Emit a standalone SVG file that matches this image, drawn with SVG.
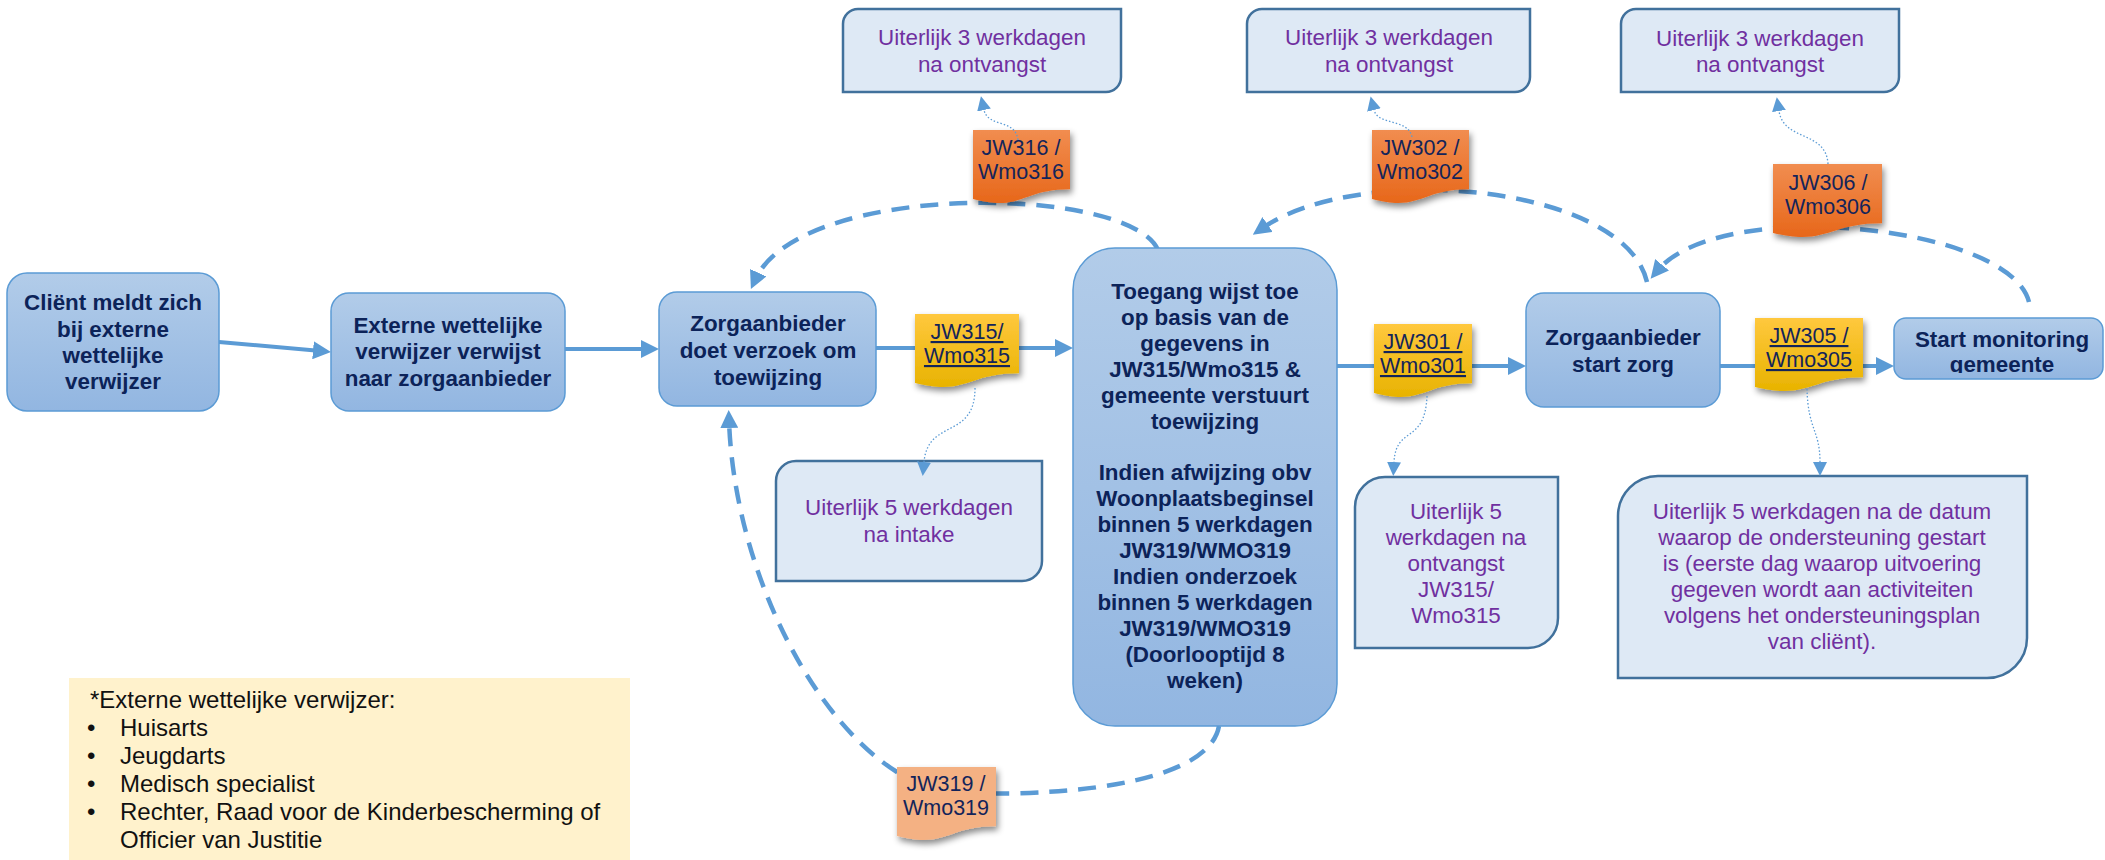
<svg xmlns="http://www.w3.org/2000/svg" width="2105" height="860" viewBox="0 0 2105 860">
<style>
text{font-family:'Liberation Sans',Arial,sans-serif}
.node{fill:url(#gNode);stroke:#5b9bd5;stroke-width:1.5}
.nt{font-size:22.4px;font-weight:bold;fill:#0c2359;text-anchor:middle}
.time{fill:#dee9f5;stroke:#41719c;stroke-width:2.5}
.tt{font-size:22.4px;fill:#7030a0;text-anchor:middle}
.jt{font-size:21.5px;fill:#13245a;text-anchor:middle}
.u{text-decoration:underline}
.solid{fill:none;stroke:#5b9bd5;stroke-width:4;marker-end:url(#ah)}
.dash{fill:none;stroke:#5b9bd5;stroke-width:4.5;stroke-dasharray:18 11;marker-end:url(#ah)}
.dot{fill:none;stroke:#5b9bd5;stroke-width:1.3;stroke-dasharray:1.5 2;marker-end:url(#ahs)}
.lt{font-size:24px;fill:#111}
</style>
<defs>
<linearGradient id="gNode" x1="0" y1="0" x2="0" y2="1"><stop offset="0" stop-color="#b2cce9"/><stop offset="1" stop-color="#92b6e1"/></linearGradient>
<linearGradient id="gYel" x1="0" y1="0" x2="0" y2="1"><stop offset="0" stop-color="#ffc83e"/><stop offset="1" stop-color="#e8b300"/></linearGradient>
<linearGradient id="gOra" x1="0" y1="0" x2="0" y2="1"><stop offset="0" stop-color="#f18d50"/><stop offset="1" stop-color="#e7671a"/></linearGradient>
<filter id="sh" x="-20%" y="-20%" width="150%" height="160%"><feDropShadow dx="2" dy="4" stdDeviation="3" flood-color="#000" flood-opacity="0.45"/></filter>
<marker id="ah" markerUnits="userSpaceOnUse" markerWidth="18" markerHeight="18" refX="8" refY="9" orient="auto"><path d="M0,0 L18,9 L0,18 Z" fill="#5b9bd5"/></marker>
<marker id="ahs" markerUnits="userSpaceOnUse" markerWidth="14" markerHeight="14" refX="0" refY="7" orient="auto"><path d="M0,0 L14,7 L0,14 Z" fill="#5b9bd5"/></marker>
<clipPath id="clipN6"><rect x="1890" y="314" width="215" height="59"/></clipPath>
</defs>

<g id="connectors">
<path class="solid" d="M219,342 L321,351"/>
<path class="solid" d="M565,349 H649"/>
<path class="solid" d="M876,348 H1063"/>
<path class="solid" d="M1337,366 H1516"/>
<path class="solid" d="M1720,366 H1884"/>
<path class="dash" d="M1158,250 C1130,185 800,180 755,280"/>
<path class="dash" d="M1647,282 C1625,185 1360,160 1261,229"/>
<path class="dash" d="M2029,302 C2010,225 1720,195 1657,271"/>
<path class="dash" d="M1219,726 C1210,778 1090,797 960,793 C850,790 735,600 729,420"/>
</g>

<g id="n1"><rect class="node" x="7" y="273" width="212" height="138" rx="20"/>
<text class="nt"><tspan x="113" y="310">Cliënt meldt zich</tspan><tspan x="113" y="337">bij externe</tspan><tspan x="113" y="363">wettelijke</tspan><tspan x="113" y="389">verwijzer</tspan></text></g>
<g id="n2"><rect class="node" x="331" y="293" width="234" height="118" rx="18"/>
<text class="nt"><tspan x="448" y="333">Externe wettelijke</tspan><tspan x="448" y="359">verwijzer verwijst</tspan><tspan x="448" y="386">naar zorgaanbieder</tspan></text></g>
<g id="n3"><rect class="node" x="659" y="292" width="217" height="114" rx="18"/>
<text class="nt"><tspan x="768" y="331">Zorgaanbieder</tspan><tspan x="768" y="358">doet verzoek om</tspan><tspan x="768" y="385">toewijzing</tspan></text></g>
<g id="n4"><rect class="node" x="1073" y="248" width="264" height="478" rx="42"/>
<text class="nt"><tspan x="1205" y="299">Toegang wijst toe</tspan><tspan x="1205" y="325">op basis van de</tspan><tspan x="1205" y="351">gegevens in</tspan><tspan x="1205" y="377">JW315/Wmo315 &amp;</tspan><tspan x="1205" y="403">gemeente verstuurt</tspan><tspan x="1205" y="429">toewijzing</tspan><tspan x="1205" y="480">Indien afwijzing obv</tspan><tspan x="1205" y="506">Woonplaatsbeginsel</tspan><tspan x="1205" y="532">binnen 5 werkdagen</tspan><tspan x="1205" y="558">JW319/WMO319</tspan><tspan x="1205" y="584">Indien onderzoek</tspan><tspan x="1205" y="610">binnen 5 werkdagen</tspan><tspan x="1205" y="636">JW319/WMO319</tspan><tspan x="1205" y="662">(Doorlooptijd 8</tspan><tspan x="1205" y="688">weken)</tspan></text></g>
<g id="n5"><rect class="node" x="1526" y="293" width="194" height="114" rx="18"/>
<text class="nt"><tspan x="1623" y="345">Zorgaanbieder</tspan><tspan x="1623" y="372">start zorg</tspan></text></g>
<g id="n6"><rect class="node" x="1894" y="318" width="209" height="61" rx="12"/>
<text class="nt" clip-path="url(#clipN6)"><tspan x="2002" y="347">Start monitoring</tspan><tspan x="2002" y="372">gemeente</tspan></text></g>

<g id="t316"><path class="time" d="M858,9 H1121 V77 A15,15 0 0 1 1106,92 H843 V24 A15,15 0 0 1 858,9 Z"/>
<text class="tt"><tspan x="982" y="45">Uiterlijk 3 werkdagen</tspan><tspan x="982" y="72">na ontvangst</tspan></text></g>
<g id="t302"><path class="time" d="M1262,9 H1530 V77 A15,15 0 0 1 1515,92 H1247 V24 A15,15 0 0 1 1262,9 Z"/>
<text class="tt"><tspan x="1389" y="45">Uiterlijk 3 werkdagen</tspan><tspan x="1389" y="72">na ontvangst</tspan></text></g>
<g id="t306"><path class="time" d="M1636,9 H1899 V77 A15,15 0 0 1 1884,92 H1621 V24 A15,15 0 0 1 1636,9 Z"/>
<text class="tt"><tspan x="1760" y="46">Uiterlijk 3 werkdagen</tspan><tspan x="1760" y="72">na ontvangst</tspan></text></g>
<g id="t315"><path class="time" d="M796,461 H1042 V561 A20,20 0 0 1 1022,581 H776 V481 A20,20 0 0 1 796,461 Z"/>
<text class="tt"><tspan x="909" y="515">Uiterlijk 5 werkdagen</tspan><tspan x="909" y="542">na intake</tspan></text></g>
<g id="t301"><path class="time" d="M1385,477 H1558 V618 A30,30 0 0 1 1528,648 H1355 V507 A30,30 0 0 1 1385,477 Z"/>
<text class="tt"><tspan x="1456" y="519">Uiterlijk 5</tspan><tspan x="1456" y="545">werkdagen na</tspan><tspan x="1456" y="571">ontvangst</tspan><tspan x="1456" y="597">JW315/</tspan><tspan x="1456" y="623">Wmo315</tspan></text></g>
<g id="t305"><path class="time" d="M1658,476 H2027 V638 A40,40 0 0 1 1987,678 H1618 V516 A40,40 0 0 1 1658,476 Z"/>
<text class="tt"><tspan x="1822" y="519">Uiterlijk 5 werkdagen na de datum</tspan><tspan x="1822" y="545">waarop de ondersteuning gestart</tspan><tspan x="1822" y="571">is (eerste dag waarop uitvoering</tspan><tspan x="1822" y="597">gegeven wordt aan activiteiten</tspan><tspan x="1822" y="623">volgens het ondersteuningsplan</tspan><tspan x="1822" y="649">van cliënt).</tspan></text></g>

<g id="jw315"><path filter="url(#sh)" fill="url(#gYel)" d="M915,314 H1019 V373.3 C967,373.3 967,396 915,383.1 Z"/>
<text class="jt u"><tspan x="967" y="339">JW315/</tspan><tspan x="967" y="363">Wmo315</tspan></text></g>
<g id="jw301"><path filter="url(#sh)" fill="url(#gYel)" d="M1374,324 H1472 V383.3 C1423,383.3 1423,406 1374,393.1 Z"/>
<text class="jt u"><tspan x="1423" y="349">JW301 /</tspan><tspan x="1423" y="373">Wmo301</tspan></text></g>
<g id="jw305"><path filter="url(#sh)" fill="url(#gYel)" d="M1755,318 H1863 V377.3 C1809,377.3 1809,400 1755,387.1 Z"/>
<text class="jt u"><tspan x="1809" y="343">JW305 /</tspan><tspan x="1809" y="367">Wmo305</tspan></text></g>
<g id="jw316"><path filter="url(#sh)" fill="url(#gOra)" d="M973,130 H1070 V189.3 C1021.5,189.3 1021.5,212 973,199.1 Z"/>
<text class="jt"><tspan x="1021" y="155">JW316 /</tspan><tspan x="1021" y="179">Wmo316</tspan></text></g>
<g id="jw302"><path filter="url(#sh)" fill="url(#gOra)" d="M1372,130 H1469 V189.3 C1420.5,189.3 1420.5,212 1372,199.1 Z"/>
<text class="jt"><tspan x="1420" y="155">JW302 /</tspan><tspan x="1420" y="179">Wmo302</tspan></text></g>
<g id="jw306"><path filter="url(#sh)" fill="url(#gOra)" d="M1773,164 H1882 V223.3 C1827.5,223.3 1827.5,246 1773,233.1 Z"/>
<text class="jt"><tspan x="1828" y="190">JW306 /</tspan><tspan x="1828" y="214">Wmo306</tspan></text></g>
<g id="jw319"><path filter="url(#sh)" fill="#f4b183" d="M897,767 H996 V826.3 C946.5,826.3 946.5,849 897,836.1 Z"/>
<text class="jt"><tspan x="946" y="791">JW319 /</tspan><tspan x="946" y="815">Wmo319</tspan></text></g>

<g id="connectors-dotted">
<path class="dot" d="M1018,140 C1015,118 988,128 984,110"/>
<path class="dot" d="M1412,137 C1408,118 1378,126 1374,110"/>
<path class="dot" d="M1828,164 C1826,130 1784,142 1779,111"/>
<path class="dot" d="M975,388 C975,440 928,418 924,462"/>
<path class="dot" d="M1427,396 C1425,445 1396,425 1394,462"/>
<path class="dot" d="M1807,389 C1808,430 1820,430 1820,462"/>
</g>

<g id="legend"><rect x="69" y="678" width="561" height="182" fill="#fff2cc"/>
<text class="lt"><tspan x="90" y="708">*Externe wettelijke verwijzer:</tspan></text>
<text class="lt"><tspan x="87" y="736">•</tspan><tspan x="87" y="764">•</tspan><tspan x="87" y="792">•</tspan><tspan x="87" y="820">•</tspan></text>
<text class="lt"><tspan x="120" y="736">Huisarts</tspan><tspan x="120" y="764">Jeugdarts</tspan><tspan x="120" y="792">Medisch specialist</tspan><tspan x="120" y="820">Rechter, Raad voor de Kinderbescherming of</tspan><tspan x="120" y="848">Officier van Justitie</tspan></text></g>
</svg>
